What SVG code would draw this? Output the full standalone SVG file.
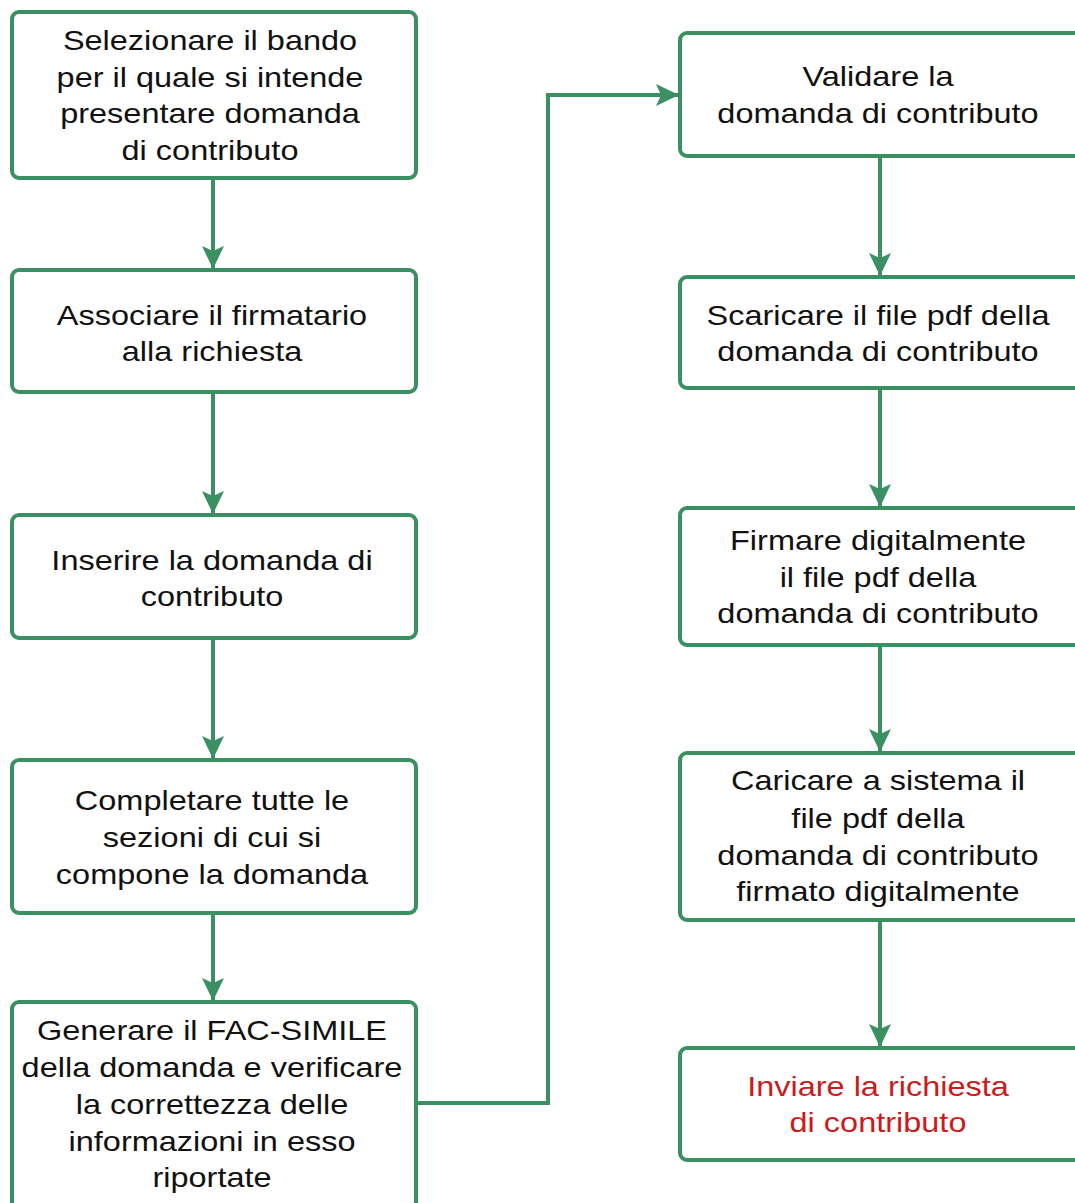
<svg xmlns="http://www.w3.org/2000/svg" width="1075" height="1203" viewBox="0 0 1075 1203">
<defs>
<style>
.box{fill:#fff;stroke:#3a8f63;stroke-width:4}
.t{font-family:"Liberation Sans",Arial,sans-serif;font-size:28px;fill:#111;text-anchor:middle}
.red{fill:#cc1b1b}
.c{fill:none;stroke:#3a8f63;stroke-width:4}
</style>
<marker id="a" viewBox="0 0 24 24" refX="22" refY="12" markerWidth="24" markerHeight="24" orient="auto" markerUnits="userSpaceOnUse">
<path d="M0,1 L23,12 L0,23 L5,12 Z" fill="#3a8f63"/>
</marker>
</defs>
<rect width="1075" height="1203" fill="#fff"/>
<g id="connectors">
<line class="c" x1="213" y1="180" x2="213" y2="268" marker-end="url(#a)"/>
<line class="c" x1="213" y1="394" x2="213" y2="513" marker-end="url(#a)"/>
<line class="c" x1="213" y1="640" x2="213" y2="758" marker-end="url(#a)"/>
<line class="c" x1="213" y1="915" x2="213" y2="1000" marker-end="url(#a)"/>
<polyline class="c" points="418,1103 548,1103 548,95 678,95" marker-end="url(#a)"/>
<line class="c" x1="880" y1="158" x2="880" y2="275" marker-end="url(#a)"/>
<line class="c" x1="880" y1="390" x2="880" y2="506" marker-end="url(#a)"/>
<line class="c" x1="880" y1="647" x2="880" y2="751" marker-end="url(#a)"/>
<line class="c" x1="880" y1="922" x2="880" y2="1046" marker-end="url(#a)"/>
</g>
<g id="n1"><rect class="box" x="12" y="12" width="404" height="166" rx="7"/>
<g transform="translate(210 0) scale(1.16 1)">
<text class="t" x="0" y="50">Selezionare il bando</text>
<text class="t" x="0" y="87">per il quale si intende</text>
<text class="t" x="0" y="123">presentare domanda</text>
<text class="t" x="0" y="160">di contributo</text></g></g>
<g id="n2"><rect class="box" x="12" y="270" width="404" height="122" rx="7"/>
<g transform="translate(212 0) scale(1.16 1)">
<text class="t" x="0" y="325">Associare il firmatario</text>
<text class="t" x="0" y="361">alla richiesta</text></g></g>
<g id="n3"><rect class="box" x="12" y="515" width="404" height="123" rx="7"/>
<g transform="translate(212 0) scale(1.16 1)">
<text class="t" x="0" y="570">Inserire la domanda di</text>
<text class="t" x="0" y="606">contributo</text></g></g>
<g id="n4"><rect class="box" x="12" y="760" width="404" height="153" rx="7"/>
<g transform="translate(212 0) scale(1.16 1)">
<text class="t" x="0" y="810">Completare tutte le</text>
<text class="t" x="0" y="847">sezioni di cui si</text>
<text class="t" x="0" y="884">compone la domanda</text></g></g>
<g id="n5"><rect class="box" x="12" y="1002" width="404" height="210" rx="7"/>
<g transform="translate(212 0) scale(1.16 1)">
<text class="t" x="0" y="1040">Generare il FAC-SIMILE</text>
<text class="t" x="0" y="1077">della domanda e verificare</text>
<text class="t" x="0" y="1114">la correttezza delle</text>
<text class="t" x="0" y="1151">informazioni in esso</text>
<text class="t" x="0" y="1187">riportate</text></g></g>
<g id="r1"><rect class="box" x="680" y="33" width="405" height="123" rx="7"/>
<g transform="translate(878 0) scale(1.16 1)">
<text class="t" x="0" y="86">Validare la</text>
<text class="t" x="0" y="123">domanda di contributo</text></g></g>
<g id="r2"><rect class="box" x="680" y="277" width="405" height="111" rx="7"/>
<g transform="translate(878 0) scale(1.16 1)">
<text class="t" x="0" y="325">Scaricare il file pdf della</text>
<text class="t" x="0" y="361">domanda di contributo</text></g></g>
<g id="r3"><rect class="box" x="680" y="508" width="405" height="137" rx="7"/>
<g transform="translate(878 0) scale(1.16 1)">
<text class="t" x="0" y="550">Firmare digitalmente</text>
<text class="t" x="0" y="587">il file pdf della</text>
<text class="t" x="0" y="623">domanda di contributo</text></g></g>
<g id="r4"><rect class="box" x="680" y="753" width="405" height="167" rx="7"/>
<g transform="translate(878 0) scale(1.16 1)">
<text class="t" x="0" y="790">Caricare a sistema il</text>
<text class="t" x="0" y="828">file pdf della</text>
<text class="t" x="0" y="865">domanda di contributo</text>
<text class="t" x="0" y="901">firmato digitalmente</text></g></g>
<g id="r5"><rect class="box" x="680" y="1048" width="405" height="112" rx="7"/>
<g transform="translate(878 0) scale(1.16 1)">
<text class="t red" x="0" y="1096">Inviare la richiesta</text>
<text class="t red" x="0" y="1132">di contributo</text></g></g>
</svg>
